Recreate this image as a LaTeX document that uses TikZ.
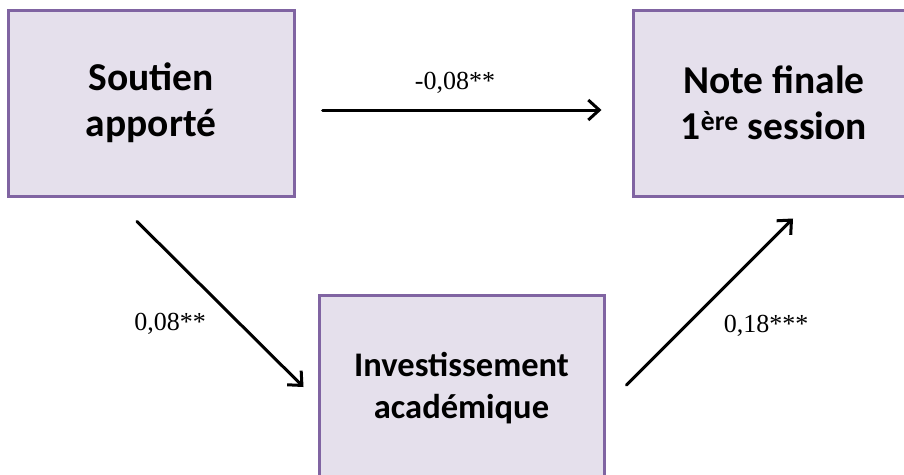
\documentclass[tikz,border=0pt]{standalone}
\usepackage{fontspec}
\setmainfont{Carlito}
\newfontfamily\lblfont{Liberation Serif}
\usetikzlibrary{arrows.meta}
\definecolor{boxfill}{HTML}{E5E0EC}
\definecolor{boxdraw}{HTML}{8064A2}
\begin{document}
\begin{tikzpicture}[x=1pt,y=-1pt,
  box/.style={draw=boxdraw, fill=boxfill, line width=3pt, minimum width=286pt, minimum height=186pt, align=center, inner sep=0pt, font=\bfseries\fontsize{39.5}{46}\selectfont},
  arr/.style={line width=3pt, line cap=round, -{Straight Barb[length=11pt,width=20pt,line width=3pt]}},
  lbl/.style={font=\lblfont\fontsize{26}{30}\selectfont, anchor=base, inner sep=0pt}]
\useasboundingbox (0,0) rectangle (904,474);
\clip (0,0) rectangle (904,474);
\node[box] (b1) at (151,103) {Soutien\\apporté};
\node[box, minimum width=282pt] (b2) at (774,103) {Note finale\\1\textsuperscript{ère} session};
\node[box, minimum width=285pt, font=\bfseries\fontsize{34.5}{42}\selectfont] (b3) at (461.5,388) {Investissement\\académique};
\draw[arr] ([xshift=27pt,yshift=-7pt]b1.east) -- ([xshift=-30pt,yshift=-7pt]b2.west);
\draw[arr] ([xshift=-14pt,yshift=-24pt]b1.south) -- ([xshift=-14pt,yshift=1pt]b3.west);
\draw[arr] ([xshift=21pt,yshift=3pt]b3.east) -- ([xshift=19pt,yshift=-21pt]b2.south);
\node[lbl] (l1) at (455,89) {-0,08**};
\node[lbl] (l2) at (170,330) {0,08**};
\node[lbl] (l3) at (766,332) {0,18***};
\end{tikzpicture}
\end{document}
